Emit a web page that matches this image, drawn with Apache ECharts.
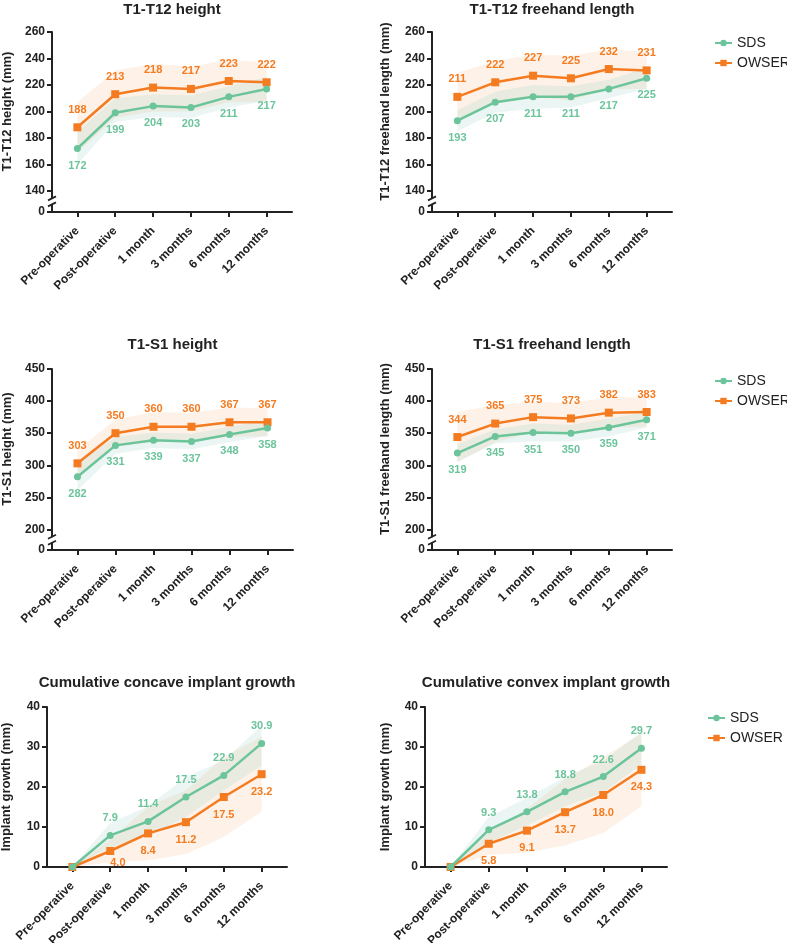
<!DOCTYPE html>
<html>
<head>
<meta charset="utf-8">
<script src="https://cdn.jsdelivr.net/npm/echarts@6/dist/echarts.min.js"></script>
<style>
  html, body { margin: 0; padding: 0; background: #fff; }
  #chart { width: 787px; height: 943px; }
</style>
</head>
<body>
<div id="chart"></div>
<script>
// categories (time points)
var categories = ['Pre-operative', 'Post-operative', '1 month', '3 months', '6 months', '12 months'];
var legendNames = ['SDS', 'OWSER'];

// T1-T12 height
var t12HeightSds = [172, 199, 204, 203, 211, 217];
var t12HeightSdsLow = [160, 192, 196, 195, 203, 208];
var t12HeightSdsHigh = [185, 210, 213, 212, 219, 226];
var t12HeightOwser = [188, 213, 218, 217, 223, 222];
var t12HeightOwserLow = [169, 195, 200, 200, 207, 207];
var t12HeightOwserHigh = [207, 231, 236, 234, 239, 237];

// T1-T12 freehand length
var t12LengthSds = [193, 207, 211, 211, 217, 225];
var t12LengthSdsLow = [185, 199, 202, 203, 210, 217];
var t12LengthSdsHigh = [201, 215, 220, 219, 224, 233];
var t12LengthOwser = [211, 222, 227, 225, 232, 231];
var t12LengthOwserLow = [193, 206, 211, 208, 217, 217];
var t12LengthOwserHigh = [229, 238, 243, 242, 247, 245];

// T1-S1 height
var s1HeightSds = [282, 331, 339, 337, 348, 358];
var s1HeightSdsLow = [261, 318, 327, 325, 336, 346];
var s1HeightSdsHigh = [303, 344, 351, 349, 360, 370];
var s1HeightOwser = [303, 350, 360, 360, 367, 367];
var s1HeightOwserLow = [282, 329, 337, 338, 344, 345];
var s1HeightOwserHigh = [324, 371, 383, 382, 390, 389];

// T1-S1 freehand length
var s1LengthSds = [319, 345, 351, 350, 359, 371];
var s1LengthSdsLow = [305, 334, 337, 337, 345, 359];
var s1LengthSdsHigh = [333, 356, 365, 363, 373, 383];
var s1LengthOwser = [344, 365, 375, 373, 382, 383];
var s1LengthOwserLow = [305, 336, 351, 349, 358, 360];
var s1LengthOwserHigh = [383, 394, 399, 397, 406, 406];

// cumulative concave implant growth
var concaveSds = [0, 7.9, 11.4, 17.5, 22.9, 30.9];
var concaveSdsLow = [0, 4.9, 7.6, 12.5, 19.1, 25.4];
var concaveSdsHigh = [0, 11.0, 15.2, 22.5, 26.7, 35.4];
var concaveOwser = [0, 4.0, 8.4, 11.2, 17.5, 23.2];
var concaveOwserLow = [0, 1.2, 1.7, 3.2, 7.5, 13.8];
var concaveOwserHigh = [0, 6.8, 15.1, 19.2, 27.5, 32.6];

// cumulative convex implant growth
var convexSds = [0, 9.3, 13.8, 18.8, 22.6, 29.7];
var convexSdsLow = [0, 6.1, 10.3, 15.1, 18.6, 25.7];
var convexSdsHigh = [0, 12.5, 17.3, 22.5, 26.6, 33.7];
var convexOwser = [0, 5.8, 9.1, 13.7, 18.0, 24.3];
var convexOwserLow = [0, 3.0, 3.6, 5.4, 8.5, 15.2];
var convexOwserHigh = [0, 8.6, 14.6, 22.0, 27.5, 33.4];

// y tick labels
var t12Ticks = [140, 160, 180, 200, 220, 240, 260];
var s1Ticks = [200, 250, 300, 350, 400, 450];
var growthTicks = [0, 10, 20, 30, 40];

var FONT = '"Liberation Sans", Arial, Helvetica, sans-serif';
var GREEN = '#6cc49b';
var ORANGE = '#f47b20';
var INK = '#222222';
var GREEN_BAND = 'rgba(130, 196, 186, 0.16)';
var ORANGE_BAND = 'rgba(249, 164, 95, 0.14)';

var panels = [
    {title: 'T1-T12 height', yName: 'T1-T12 height (mm)', left: 52, top: 32, width: 240, height: 180,
     yMin: 124, yMax: 260, ticks: t12Ticks, broken: true, nameGap: 38, titleTop: 2, dec: 0, sdsUp: false,
     sds: t12HeightSds, sdsLow: t12HeightSdsLow, sdsHigh: t12HeightSdsHigh,
     ow: t12HeightOwser, owLow: t12HeightOwserLow, owHigh: t12HeightOwserHigh},
    {title: 'T1-T12 freehand length', yName: 'T1-T12 freehand length (mm)', left: 432, top: 32, width: 240, height: 180,
     yMin: 124, yMax: 260, ticks: t12Ticks, broken: true, nameGap: 40, titleTop: 2, dec: 0, sdsUp: false,
     sds: t12LengthSds, sdsLow: t12LengthSdsLow, sdsHigh: t12LengthSdsHigh,
     ow: t12LengthOwser, owLow: t12LengthOwserLow, owHigh: t12LengthOwserHigh},
    {title: 'T1-S1 height', yName: 'T1-S1 height (mm)', left: 52, top: 369, width: 241, height: 181,
     yMin: 168, yMax: 450, ticks: s1Ticks, broken: true, nameGap: 38, titleTop: 337, dec: 0, sdsUp: false,
     sds: s1HeightSds, sdsLow: s1HeightSdsLow, sdsHigh: s1HeightSdsHigh,
     ow: s1HeightOwser, owLow: s1HeightOwserLow, owHigh: s1HeightOwserHigh},
    {title: 'T1-S1 freehand length', yName: 'T1-S1 freehand length (mm)', left: 432, top: 369, width: 240, height: 181,
     yMin: 168, yMax: 450, ticks: s1Ticks, broken: true, nameGap: 40, titleTop: 337, dec: 0, sdsUp: false,
     sds: s1LengthSds, sdsLow: s1LengthSdsLow, sdsHigh: s1LengthSdsHigh,
     ow: s1LengthOwser, owLow: s1LengthOwserLow, owHigh: s1LengthOwserHigh},
    {title: 'Cumulative concave implant growth', yName: 'Implant growth (mm)', left: 47, top: 707, width: 240, height: 160,
     yMin: 0, yMax: 40, ticks: growthTicks, broken: false, nameGap: 34, titleTop: 675, dec: 1, sdsUp: true,
     sds: concaveSds, sdsLow: concaveSdsLow, sdsHigh: concaveSdsHigh,
     ow: concaveOwser, owLow: concaveOwserLow, owHigh: concaveOwserHigh},
    {title: 'Cumulative convex implant growth', yName: 'Implant growth (mm)', left: 425, top: 707, width: 242, height: 160,
     yMin: 0, yMax: 40, ticks: growthTicks, broken: false, nameGap: 33, titleTop: 675, dec: 1, sdsUp: true,
     sds: convexSds, sdsLow: convexSdsLow, sdsHigh: convexSdsHigh,
     ow: convexOwser, owLow: convexOwserLow, owHigh: convexOwserHigh}
];

var catIdx = categories.map(function (c, i) { return i; });

function pairs(arr) {
    return arr.map(function (v, i) { return [i, v]; });
}

// band polygon: upper bound left->right, lower bound right->left
function bandSeries(i, lo, hi, fill) {
    return {
        type: 'custom', xAxisIndex: i, yAxisIndex: i, silent: true, z: 1,
        data: pairs(hi),
        renderItem: function (params, api) {
            if (params.dataIndex !== 0) return null;
            var pts = [];
            for (var k = 0; k < hi.length; k++) pts.push(api.coord([k, hi[k]]));
            for (var k2 = lo.length - 1; k2 >= 0; k2--) pts.push(api.coord([k2, lo[k2]]));
            return {type: 'polygon', shape: {points: pts}, style: {fill: fill}};
        }
    };
}

var grid = [], xAxis = [], yAxis = [], title = [], series = [];

panels.forEach(function (p, i) {
    grid.push({left: p.left, top: p.top, width: p.width, height: p.height, outerBoundsMode: 'none', containLabel: false});
    title.push({
        text: p.title,
        left: p.left + p.width / 2,
        top: p.titleTop,
        textAlign: 'center',
        padding: 0,
        textStyle: {fontFamily: FONT, fontSize: 15, fontWeight: 'bold', color: INK}
    });
    xAxis.push({
        gridIndex: i,
        type: 'value',
        min: -0.67,
        max: 5.67,
        axisLine: {show: true, onZero: false, lineStyle: {color: INK, width: 2}},
        axisTick: {show: true, length: 5, customValues: catIdx, lineStyle: {color: INK, width: 2}},
        axisLabel: {
            customValues: catIdx,
            rotate: 45,
            margin: 17,
            fontFamily: FONT, fontSize: 12, fontWeight: 'bold', color: INK,
            formatter: function (v) { return categories[Math.round(v)]; }
        },
        splitLine: {show: false}
    });
    yAxis.push({
        gridIndex: i,
        type: 'value',
        min: p.yMin,
        max: p.yMax,
        name: p.yName,
        nameLocation: 'middle',
        nameRotate: 90,
        nameGap: p.nameGap,
        nameTextStyle: {
            fontFamily: FONT, fontSize: 13, fontWeight: 'bold', color: INK,
            padding: p.broken ? [0, 0, 0, 21] : 0
        },
        axisLine: {show: true, onZero: false, lineStyle: {color: INK, width: 2}},
        axisTick: {show: true, length: 5, customValues: p.broken ? [p.yMin].concat(p.ticks) : p.ticks,
                   lineStyle: {color: INK, width: 2}},
        axisLabel: {
            customValues: p.broken ? [p.yMin].concat(p.ticks) : p.ticks,
            margin: 7,
            fontFamily: FONT, fontSize: 12, fontWeight: 'bold', color: INK,
            formatter: function (v) { return v === p.yMin ? '0' : String(v); }
        },
        splitLine: {show: false}
    });

    series.push(bandSeries(i, p.owLow, p.owHigh, ORANGE_BAND));
    series.push(bandSeries(i, p.sdsLow, p.sdsHigh, GREEN_BAND));

    var fmt = function (prm) {
        var v = prm.value[1];
        if (v === 0) return '';
        return p.dec ? v.toFixed(1) : String(v);
    };
    // keep value labels from dropping under the x axis
    var gridBottom = p.top + p.height;
    var keepAbove = function (prm) {
        var r = prm.labelRect;
        if (r && r.y + r.height > gridBottom + 1) {
            return {y: gridBottom + 1 - r.height};
        }
    };
    series.push({
        name: 'OWSER', type: 'line', xAxisIndex: i, yAxisIndex: i,
        data: pairs(p.ow), symbol: 'rect', symbolSize: 8,
        lineStyle: {color: ORANGE, width: 2.5}, itemStyle: {color: ORANGE},
        label: {show: true, position: p.sdsUp ? 'bottom' : 'top', distance: 8, formatter: fmt,
                fontFamily: FONT, fontSize: 11, fontWeight: 'bold', color: ORANGE},
        labelLayout: keepAbove,
        z: 3
    });
    series.push({
        name: 'SDS', type: 'line', xAxisIndex: i, yAxisIndex: i,
        data: pairs(p.sds), symbol: 'circle', symbolSize: 7,
        lineStyle: {color: GREEN, width: 2.5}, itemStyle: {color: GREEN},
        label: {show: true, position: p.sdsUp ? 'top' : 'bottom', distance: 8, formatter: fmt,
                fontFamily: FONT, fontSize: 11, fontWeight: 'bold', color: GREEN},
        z: 4
    });
});

function legendAt(left, top) {
    return {
        data: legendNames, orient: 'vertical', left: left, top: top,
        itemWidth: 17, itemHeight: 8, itemGap: 6,
        textStyle: {fontFamily: FONT, fontSize: 14, color: INK}
    };
}

var chart = echarts.init(document.getElementById('chart'), null, {renderer: 'canvas'});
chart.setOption({
    backgroundColor: '#ffffff',
    animation: false,
    title: title,
    legend: [legendAt(709, 31), legendAt(709, 369), legendAt(702, 706)],
    grid: grid,
    xAxis: xAxis,
    yAxis: yAxis,
    series: series
});

// axis break marks on the broken y axes
var marks = [];
panels.forEach(function (p, i) {
    if (!p.broken) return;
    var yA = chart.convertToPixel({yAxisIndex: i}, p.ticks[0]);
    var yB = chart.convertToPixel({yAxisIndex: i}, p.yMin);
    var m = (yA + yB) / 2;
    var x = p.left;
    marks.push({type: 'rect', shape: {x: x - 3, y: m - 2.5, width: 6, height: 5}, style: {fill: '#fff'}, z: 100});
    marks.push({type: 'line', shape: {x1: x - 4, y1: m - 1, x2: x + 4, y2: m - 5}, style: {stroke: INK, lineWidth: 1.8}, z: 101});
    marks.push({type: 'line', shape: {x1: x - 4, y1: m + 5, x2: x + 4, y2: m + 1}, style: {stroke: INK, lineWidth: 1.8}, z: 101});
});
chart.setOption({graphic: marks});
</script>
</body>
</html>
